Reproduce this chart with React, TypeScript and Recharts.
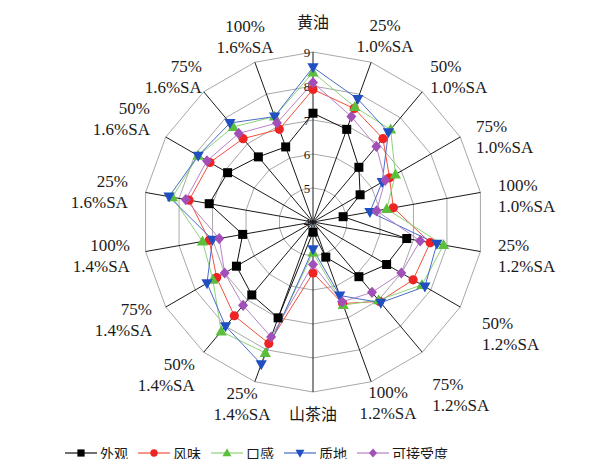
import React from "react";
import {
  RadarChart,
  Radar,
  PolarGrid,
  PolarAngleAxis,
  PolarRadiusAxis,
  Legend,
} from "recharts";

// Sample groups around the dial (clockwise from the top)
const categories = [
  "黄油",
  "25%\n1.0%SA",
  "50%\n1.0%SA",
  "75%\n1.0%SA",
  "100%\n1.0%SA",
  "25%\n1.2%SA",
  "50%\n1.2%SA",
  "75%\n1.2%SA",
  "100%\n1.2%SA",
  "山茶油",
  "25%\n1.4%SA",
  "50%\n1.4%SA",
  "75%\n1.4%SA",
  "100%\n1.4%SA",
  "25%\n1.6%SA",
  "50%\n1.6%SA",
  "75%\n1.6%SA",
  "100%\n1.6%SA",
];

// Sensory scores per attribute
const appearance = [7.2, 6.9, 6.1, 5.6, 4.9, 6.8, 6.5, 6.1, 5.1, 4.3, 7.0, 6.8, 6.6, 6.1, 7.1, 6.9, 6.5, 6.35];
const flavor = [7.9, 7.55, 7.2, 6.6, 6.4, 7.5, 7.4, 7.05, 6.55, 5.5, 7.8, 7.6, 7.27, 7.1, 7.7, 7.5, 7.2, 6.9];
const mouthfeel = [8.4, 7.6, 7.55, 6.8, 6.2, 7.9, 7.7, 7.0, 6.6, 4.9, 8.1, 8.2, 7.4, 7.3, 8.2, 7.9, 7.65, 7.3];
const texture = [8.55, 7.85, 7.45, 6.35, 5.7, 7.7, 7.8, 7.1, 6.3, 4.8, 8.45, 8.0, 7.6, 7.0, 8.3, 7.9, 7.8, 7.3];
const acceptability = [8.1, 7.3, 6.9, 6.45, 5.9, 7.2, 7.0, 6.7, 6.5, 5.25, 7.6, 7.2, 7.0, 6.8, 7.8, 7.6, 7.4, 7.1];

const radiusTicks = [4, 5, 6, 7, 8, 9];

const series = [
  { key: "appearance", name: "外观", values: appearance, shape: "square", fill: "#000000", stroke: "#111111" },
  { key: "flavor", name: "风味", values: flavor, shape: "circle", fill: "#ee2424", stroke: "#f0503c" },
  { key: "mouthfeel", name: "口感", values: mouthfeel, shape: "triUp", fill: "#5cbf3c", stroke: "#8fd27a" },
  { key: "texture", name: "质地", values: texture, shape: "triDown", fill: "#1f4fc0", stroke: "#4a6cc8" },
  { key: "acceptability", name: "可接受度", values: acceptability, shape: "diamond", fill: "#a24fb8", stroke: "#b883c8" },
];

const data = categories.map((name, i) => {
  const row: Record<string, string | number> = { name };
  series.forEach((s) => {
    row[s.key] = s.values[i];
  });
  return row;
});

const WIDTH = 593;
const HEIGHT = 451;
const CX = 305;
const CY = 214;
const OUTER = 170;

const LATIN = "'Liberation Serif', 'Times New Roman', 'Noto Sans CJK SC', serif";
const CJK = "'Noto Sans CJK SC', 'Liberation Serif', sans-serif";

function Marker({ shape, x, y, fill, s = 1 }: { shape: string; x: number; y: number; fill: string; s?: number }) {
  switch (shape) {
    case "square":
      return <rect x={x - 4.5 * s} y={y - 4.5 * s} width={9 * s} height={9 * s} fill={fill} />;
    case "circle":
      return <circle cx={x} cy={y} r={4.6 * s} fill={fill} />;
    case "triUp":
      return (
        <polygon
          points={`${x},${y - 6 * s} ${x + 5.6 * s},${y + 4 * s} ${x - 5.6 * s},${y + 4 * s}`}
          fill={fill}
        />
      );
    case "triDown":
      return (
        <polygon
          points={`${x - 5.6 * s},${y - 4 * s} ${x + 5.6 * s},${y - 4 * s} ${x},${y + 6 * s}`}
          fill={fill}
        />
      );
    default:
      return (
        <polygon
          points={`${x},${y - 5.6 * s} ${x + 5 * s},${y} ${x},${y + 5.6 * s} ${x - 5 * s},${y}`}
          fill={fill}
        />
      );
  }
}

// Fine placement of each category label relative to a ring just outside the grid
const LABEL_R = 190;
const labelNudge: [number, number][] = [
  [0, -10],
  [7, -7.5],
  [-5, 0.5],
  [-1.5, 9.5],
  [-2, 7],
  [-2, 1],
  [4.5, 16.5],
  [-3, 27],
  [10, 2.5],
  [0, 2],
  [-6, 3.5],
  [4, 7],
  [3.5, 3],
  [4, 0.5],
  [2, 3],
  [1.5, -8],
  [11, 0.5],
  [-3, -7],
];

function AngleTick(props: any) {
  const value = String(props.payload?.value ?? "");
  const i = categories.indexOf(value);
  if (i < 0) return null;
  const theta = ((i * 360) / categories.length) * (Math.PI / 180);
  const sx = Math.sin(theta);
  const cy0 = Math.cos(theta);
  const [dx, dy] = labelNudge[i];
  const x = CX + LABEL_R * sx + dx;
  const y = CY - LABEL_R * cy0 + dy;
  const anchor = sx > 0.5 ? "start" : sx < -0.5 ? "end" : "middle";
  const lines = value.split("\n");
  const isCjk = lines.length === 1;
  const fs = isCjk ? 16 : 17;
  const lh = 21;
  const top = y - ((lines.length - 1) * lh) / 2;
  return (
    <text
      textAnchor={anchor}
      fontFamily={isCjk ? CJK : LATIN}
      fontSize={fs}
      fill="#1a1a1a"
    >
      {lines.map((line, k) => (
        <tspan key={k} x={x} y={top + k * lh + fs * (isCjk ? 0.36 : 0.33)}>
          {line}
        </tspan>
      ))}
    </text>
  );
}

function RadiusTick(props: any) {
  const { x, y, payload } = props;
  return (
    <text
      x={x - 6}
      y={y + 4.5}
      textAnchor="middle"
      fontFamily={LATIN}
      fontSize={13}
      fill="#1a1a1a"
    >
      {payload.value}
    </text>
  );
}

function LegendRow() {
  return (
    <div
      style={{
        display: "flex",
        alignItems: "center",
        fontFamily: CJK,
        fontSize: 14,
        lineHeight: "16px",
        color: "#1a1a1a",
        whiteSpace: "nowrap",
      }}
    >
      {series.map((s) => (
        <div key={s.key} style={{ display: "flex", alignItems: "center", marginRight: 10 }}>
          <svg width={32} height={14} style={{ display: "block" }}>
            <line x1={0} y1={7} x2={32} y2={7} stroke={s.stroke} strokeWidth={1.2} />
            <Marker shape={s.shape} x={16} y={7} fill={s.fill} s={0.8} />
          </svg>
          <span style={{ marginLeft: 3 }}>{s.name}</span>
        </div>
      ))}
    </div>
  );
}

export default function App() {
  return (
    <RadarChart
      width={WIDTH}
      height={HEIGHT}
      data={data}
      cx={CX}
      cy={CY}
      outerRadius={OUTER}
      startAngle={90}
      endAngle={-270}
      margin={{ top: 0, right: 0, bottom: 0, left: 0 }}
      style={{ overflow: "visible" }}
    >
      <PolarGrid gridType="polygon" radialLines={false} stroke="#a8a8a8" strokeWidth={1} />
      <PolarGrid gridType="polygon" polarRadius={[]} stroke="#1a1a1a" strokeWidth={1} />
      <PolarAngleAxis dataKey="name" tick={<AngleTick />} axisLine={false} tickLine={false} />
      <PolarRadiusAxis
        angle={90}
        domain={[4, 9]}
        ticks={radiusTicks}
        tickCount={6}
        axisLine={false}
        tickLine={false}
        tick={<RadiusTick />}
      />
      {series.map((s) => (
        <Radar
          key={s.key}
          name={s.name}
          dataKey={s.key}
          stroke={s.stroke}
          strokeWidth={1}
          fill="none"
          fillOpacity={0}
          isAnimationActive={false}
          dot={(p: any) => (
            <Marker key={`${s.key}-${p.index}`} shape={s.shape} x={p.cx} y={p.cy} fill={s.fill} />
          )}
        />
      ))}
      <Legend
        content={<LegendRow />}
        wrapperStyle={{ left: 57, top: 437, width: "auto", bottom: "auto" }}
      />
    </RadarChart>
  );
}
